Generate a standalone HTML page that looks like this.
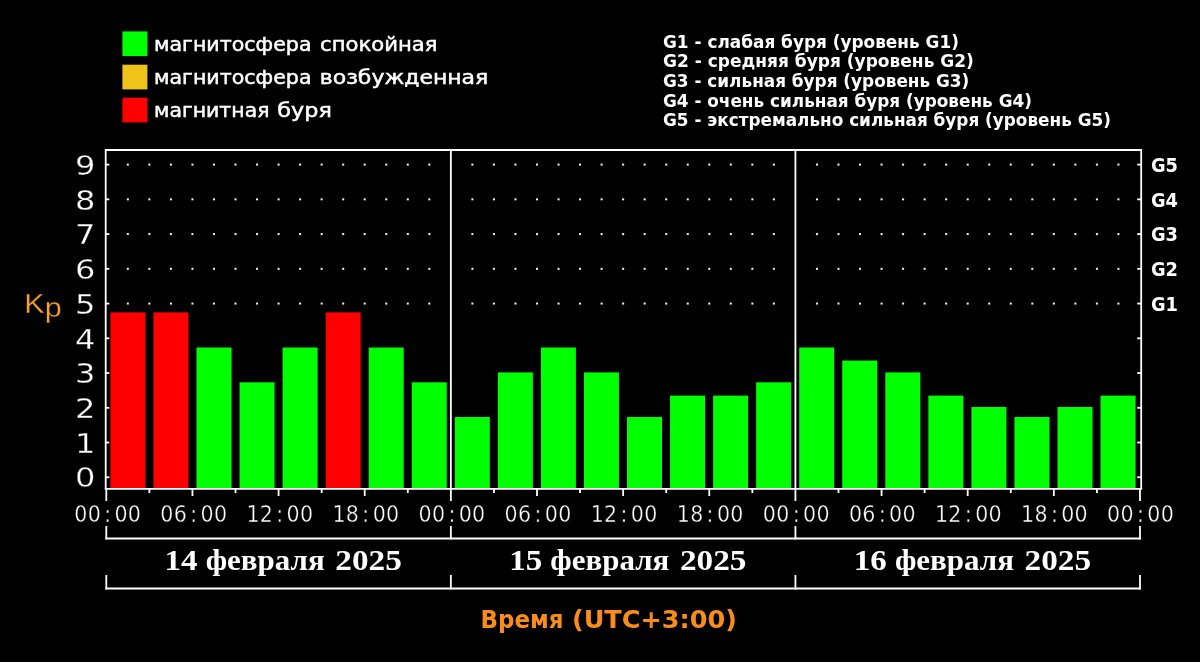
<!DOCTYPE html>
<html lang="ru"><head><meta charset="utf-8"><title>Kp</title>
<style>html,body{margin:0;padding:0;background:#000;}body{width:1200px;height:662px;overflow:hidden}svg{display:block}.t{font-family:"DejaVu Sans","Liberation Sans",sans-serif;fill:#fff;stroke:#fff;stroke-width:0.5px}.tb{font-family:"DejaVu Sans Condensed","DejaVu Sans","Liberation Sans",sans-serif;font-weight:bold;fill:#fff}.num{font-family:"Liberation Sans",sans-serif;fill:#fff}.yn{font-family:"DejaVu Sans","Liberation Sans",sans-serif;fill:#fff;stroke:#000;stroke-width:0.3px}.tm{font-family:"DejaVu Sans","Liberation Sans",sans-serif;fill:#fff;stroke:#000;stroke-width:0.35px}.date{font-family:"Liberation Serif",serif;font-weight:bold;fill:#fff}</style></head><body>
<svg width="1200" height="662" viewBox="0 0 1200 662">
<rect width="1200" height="662" fill="#000"/>
<rect x="122.4" y="31.4" width="25" height="24.7" fill="#00ff00"/>
<rect x="122.4" y="64.7" width="25" height="24.7" fill="#efc41a"/>
<rect x="122.4" y="97.7" width="25" height="24.7" fill="#ff0000"/>
<text class="t" y="51" font-size="20"><tspan x="154.0" textLength="157.5" lengthAdjust="spacingAndGlyphs">магнитосфера</tspan> <tspan x="320.0" textLength="117.5" lengthAdjust="spacingAndGlyphs">спокойная</tspan></text>
<text class="t" y="84.4" font-size="20"><tspan x="154.0" textLength="157.5" lengthAdjust="spacingAndGlyphs">магнитосфера</tspan> <tspan x="319.8" textLength="168.5" lengthAdjust="spacingAndGlyphs">возбужденная</tspan></text>
<text class="t" y="117.4" font-size="20"><tspan x="154.0" textLength="115.5" lengthAdjust="spacingAndGlyphs">магнитная</tspan> <tspan x="277.3" textLength="54.5" lengthAdjust="spacingAndGlyphs">буря</tspan></text>
<text class="tb" x="663" y="47.5" font-size="18" textLength="295.9" lengthAdjust="spacingAndGlyphs">G1 - слабая буря (уровень G1)</text>
<text class="tb" x="663" y="67.2" font-size="18" textLength="310.9" lengthAdjust="spacingAndGlyphs">G2 - средняя буря (уровень G2)</text>
<text class="tb" x="663" y="87.0" font-size="18" textLength="306.3" lengthAdjust="spacingAndGlyphs">G3 - сильная буря (уровень G3)</text>
<text class="tb" x="663" y="106.6" font-size="18" textLength="368.9" lengthAdjust="spacingAndGlyphs">G4 - очень сильная буря (уровень G4)</text>
<text class="tb" x="663" y="126.3" font-size="18" textLength="447.9" lengthAdjust="spacingAndGlyphs">G5 - экстремально сильная буря (уровень G5)</text>
<g fill="#f2f2f2">
<rect x="126.83" y="163.60" width="2" height="2"/>
<rect x="148.37" y="163.60" width="2" height="2"/>
<rect x="169.91" y="163.60" width="2" height="2"/>
<rect x="191.44" y="163.60" width="2" height="2"/>
<rect x="212.97" y="163.60" width="2" height="2"/>
<rect x="234.51" y="163.60" width="2" height="2"/>
<rect x="256.05" y="163.60" width="2" height="2"/>
<rect x="277.58" y="163.60" width="2" height="2"/>
<rect x="299.12" y="163.60" width="2" height="2"/>
<rect x="320.65" y="163.60" width="2" height="2"/>
<rect x="342.19" y="163.60" width="2" height="2"/>
<rect x="363.72" y="163.60" width="2" height="2"/>
<rect x="385.25" y="163.60" width="2" height="2"/>
<rect x="406.79" y="163.60" width="2" height="2"/>
<rect x="428.32" y="163.60" width="2" height="2"/>
<rect x="471.40" y="163.60" width="2" height="2"/>
<rect x="492.93" y="163.60" width="2" height="2"/>
<rect x="514.47" y="163.60" width="2" height="2"/>
<rect x="536.00" y="163.60" width="2" height="2"/>
<rect x="557.53" y="163.60" width="2" height="2"/>
<rect x="579.07" y="163.60" width="2" height="2"/>
<rect x="600.61" y="163.60" width="2" height="2"/>
<rect x="622.14" y="163.60" width="2" height="2"/>
<rect x="643.67" y="163.60" width="2" height="2"/>
<rect x="665.21" y="163.60" width="2" height="2"/>
<rect x="686.75" y="163.60" width="2" height="2"/>
<rect x="708.28" y="163.60" width="2" height="2"/>
<rect x="729.81" y="163.60" width="2" height="2"/>
<rect x="751.35" y="163.60" width="2" height="2"/>
<rect x="772.88" y="163.60" width="2" height="2"/>
<rect x="815.95" y="163.60" width="2" height="2"/>
<rect x="837.49" y="163.60" width="2" height="2"/>
<rect x="859.02" y="163.60" width="2" height="2"/>
<rect x="880.56" y="163.60" width="2" height="2"/>
<rect x="902.09" y="163.60" width="2" height="2"/>
<rect x="923.63" y="163.60" width="2" height="2"/>
<rect x="945.16" y="163.60" width="2" height="2"/>
<rect x="966.70" y="163.60" width="2" height="2"/>
<rect x="988.24" y="163.60" width="2" height="2"/>
<rect x="1009.77" y="163.60" width="2" height="2"/>
<rect x="1031.31" y="163.60" width="2" height="2"/>
<rect x="1052.84" y="163.60" width="2" height="2"/>
<rect x="1074.38" y="163.60" width="2" height="2"/>
<rect x="1095.91" y="163.60" width="2" height="2"/>
<rect x="1117.44" y="163.60" width="2" height="2"/>
<rect x="126.83" y="198.34" width="2" height="2"/>
<rect x="148.37" y="198.34" width="2" height="2"/>
<rect x="169.91" y="198.34" width="2" height="2"/>
<rect x="191.44" y="198.34" width="2" height="2"/>
<rect x="212.97" y="198.34" width="2" height="2"/>
<rect x="234.51" y="198.34" width="2" height="2"/>
<rect x="256.05" y="198.34" width="2" height="2"/>
<rect x="277.58" y="198.34" width="2" height="2"/>
<rect x="299.12" y="198.34" width="2" height="2"/>
<rect x="320.65" y="198.34" width="2" height="2"/>
<rect x="342.19" y="198.34" width="2" height="2"/>
<rect x="363.72" y="198.34" width="2" height="2"/>
<rect x="385.25" y="198.34" width="2" height="2"/>
<rect x="406.79" y="198.34" width="2" height="2"/>
<rect x="428.32" y="198.34" width="2" height="2"/>
<rect x="471.40" y="198.34" width="2" height="2"/>
<rect x="492.93" y="198.34" width="2" height="2"/>
<rect x="514.47" y="198.34" width="2" height="2"/>
<rect x="536.00" y="198.34" width="2" height="2"/>
<rect x="557.53" y="198.34" width="2" height="2"/>
<rect x="579.07" y="198.34" width="2" height="2"/>
<rect x="600.61" y="198.34" width="2" height="2"/>
<rect x="622.14" y="198.34" width="2" height="2"/>
<rect x="643.67" y="198.34" width="2" height="2"/>
<rect x="665.21" y="198.34" width="2" height="2"/>
<rect x="686.75" y="198.34" width="2" height="2"/>
<rect x="708.28" y="198.34" width="2" height="2"/>
<rect x="729.81" y="198.34" width="2" height="2"/>
<rect x="751.35" y="198.34" width="2" height="2"/>
<rect x="772.88" y="198.34" width="2" height="2"/>
<rect x="815.95" y="198.34" width="2" height="2"/>
<rect x="837.49" y="198.34" width="2" height="2"/>
<rect x="859.02" y="198.34" width="2" height="2"/>
<rect x="880.56" y="198.34" width="2" height="2"/>
<rect x="902.09" y="198.34" width="2" height="2"/>
<rect x="923.63" y="198.34" width="2" height="2"/>
<rect x="945.16" y="198.34" width="2" height="2"/>
<rect x="966.70" y="198.34" width="2" height="2"/>
<rect x="988.24" y="198.34" width="2" height="2"/>
<rect x="1009.77" y="198.34" width="2" height="2"/>
<rect x="1031.31" y="198.34" width="2" height="2"/>
<rect x="1052.84" y="198.34" width="2" height="2"/>
<rect x="1074.38" y="198.34" width="2" height="2"/>
<rect x="1095.91" y="198.34" width="2" height="2"/>
<rect x="1117.44" y="198.34" width="2" height="2"/>
<rect x="126.83" y="233.08" width="2" height="2"/>
<rect x="148.37" y="233.08" width="2" height="2"/>
<rect x="169.91" y="233.08" width="2" height="2"/>
<rect x="191.44" y="233.08" width="2" height="2"/>
<rect x="212.97" y="233.08" width="2" height="2"/>
<rect x="234.51" y="233.08" width="2" height="2"/>
<rect x="256.05" y="233.08" width="2" height="2"/>
<rect x="277.58" y="233.08" width="2" height="2"/>
<rect x="299.12" y="233.08" width="2" height="2"/>
<rect x="320.65" y="233.08" width="2" height="2"/>
<rect x="342.19" y="233.08" width="2" height="2"/>
<rect x="363.72" y="233.08" width="2" height="2"/>
<rect x="385.25" y="233.08" width="2" height="2"/>
<rect x="406.79" y="233.08" width="2" height="2"/>
<rect x="428.32" y="233.08" width="2" height="2"/>
<rect x="471.40" y="233.08" width="2" height="2"/>
<rect x="492.93" y="233.08" width="2" height="2"/>
<rect x="514.47" y="233.08" width="2" height="2"/>
<rect x="536.00" y="233.08" width="2" height="2"/>
<rect x="557.53" y="233.08" width="2" height="2"/>
<rect x="579.07" y="233.08" width="2" height="2"/>
<rect x="600.61" y="233.08" width="2" height="2"/>
<rect x="622.14" y="233.08" width="2" height="2"/>
<rect x="643.67" y="233.08" width="2" height="2"/>
<rect x="665.21" y="233.08" width="2" height="2"/>
<rect x="686.75" y="233.08" width="2" height="2"/>
<rect x="708.28" y="233.08" width="2" height="2"/>
<rect x="729.81" y="233.08" width="2" height="2"/>
<rect x="751.35" y="233.08" width="2" height="2"/>
<rect x="772.88" y="233.08" width="2" height="2"/>
<rect x="815.95" y="233.08" width="2" height="2"/>
<rect x="837.49" y="233.08" width="2" height="2"/>
<rect x="859.02" y="233.08" width="2" height="2"/>
<rect x="880.56" y="233.08" width="2" height="2"/>
<rect x="902.09" y="233.08" width="2" height="2"/>
<rect x="923.63" y="233.08" width="2" height="2"/>
<rect x="945.16" y="233.08" width="2" height="2"/>
<rect x="966.70" y="233.08" width="2" height="2"/>
<rect x="988.24" y="233.08" width="2" height="2"/>
<rect x="1009.77" y="233.08" width="2" height="2"/>
<rect x="1031.31" y="233.08" width="2" height="2"/>
<rect x="1052.84" y="233.08" width="2" height="2"/>
<rect x="1074.38" y="233.08" width="2" height="2"/>
<rect x="1095.91" y="233.08" width="2" height="2"/>
<rect x="1117.44" y="233.08" width="2" height="2"/>
<rect x="126.83" y="267.82" width="2" height="2"/>
<rect x="148.37" y="267.82" width="2" height="2"/>
<rect x="169.91" y="267.82" width="2" height="2"/>
<rect x="191.44" y="267.82" width="2" height="2"/>
<rect x="212.97" y="267.82" width="2" height="2"/>
<rect x="234.51" y="267.82" width="2" height="2"/>
<rect x="256.05" y="267.82" width="2" height="2"/>
<rect x="277.58" y="267.82" width="2" height="2"/>
<rect x="299.12" y="267.82" width="2" height="2"/>
<rect x="320.65" y="267.82" width="2" height="2"/>
<rect x="342.19" y="267.82" width="2" height="2"/>
<rect x="363.72" y="267.82" width="2" height="2"/>
<rect x="385.25" y="267.82" width="2" height="2"/>
<rect x="406.79" y="267.82" width="2" height="2"/>
<rect x="428.32" y="267.82" width="2" height="2"/>
<rect x="471.40" y="267.82" width="2" height="2"/>
<rect x="492.93" y="267.82" width="2" height="2"/>
<rect x="514.47" y="267.82" width="2" height="2"/>
<rect x="536.00" y="267.82" width="2" height="2"/>
<rect x="557.53" y="267.82" width="2" height="2"/>
<rect x="579.07" y="267.82" width="2" height="2"/>
<rect x="600.61" y="267.82" width="2" height="2"/>
<rect x="622.14" y="267.82" width="2" height="2"/>
<rect x="643.67" y="267.82" width="2" height="2"/>
<rect x="665.21" y="267.82" width="2" height="2"/>
<rect x="686.75" y="267.82" width="2" height="2"/>
<rect x="708.28" y="267.82" width="2" height="2"/>
<rect x="729.81" y="267.82" width="2" height="2"/>
<rect x="751.35" y="267.82" width="2" height="2"/>
<rect x="772.88" y="267.82" width="2" height="2"/>
<rect x="815.95" y="267.82" width="2" height="2"/>
<rect x="837.49" y="267.82" width="2" height="2"/>
<rect x="859.02" y="267.82" width="2" height="2"/>
<rect x="880.56" y="267.82" width="2" height="2"/>
<rect x="902.09" y="267.82" width="2" height="2"/>
<rect x="923.63" y="267.82" width="2" height="2"/>
<rect x="945.16" y="267.82" width="2" height="2"/>
<rect x="966.70" y="267.82" width="2" height="2"/>
<rect x="988.24" y="267.82" width="2" height="2"/>
<rect x="1009.77" y="267.82" width="2" height="2"/>
<rect x="1031.31" y="267.82" width="2" height="2"/>
<rect x="1052.84" y="267.82" width="2" height="2"/>
<rect x="1074.38" y="267.82" width="2" height="2"/>
<rect x="1095.91" y="267.82" width="2" height="2"/>
<rect x="1117.44" y="267.82" width="2" height="2"/>
<rect x="126.83" y="302.56" width="2" height="2"/>
<rect x="148.37" y="302.56" width="2" height="2"/>
<rect x="169.91" y="302.56" width="2" height="2"/>
<rect x="191.44" y="302.56" width="2" height="2"/>
<rect x="212.97" y="302.56" width="2" height="2"/>
<rect x="234.51" y="302.56" width="2" height="2"/>
<rect x="256.05" y="302.56" width="2" height="2"/>
<rect x="277.58" y="302.56" width="2" height="2"/>
<rect x="299.12" y="302.56" width="2" height="2"/>
<rect x="320.65" y="302.56" width="2" height="2"/>
<rect x="342.19" y="302.56" width="2" height="2"/>
<rect x="363.72" y="302.56" width="2" height="2"/>
<rect x="385.25" y="302.56" width="2" height="2"/>
<rect x="406.79" y="302.56" width="2" height="2"/>
<rect x="428.32" y="302.56" width="2" height="2"/>
<rect x="471.40" y="302.56" width="2" height="2"/>
<rect x="492.93" y="302.56" width="2" height="2"/>
<rect x="514.47" y="302.56" width="2" height="2"/>
<rect x="536.00" y="302.56" width="2" height="2"/>
<rect x="557.53" y="302.56" width="2" height="2"/>
<rect x="579.07" y="302.56" width="2" height="2"/>
<rect x="600.61" y="302.56" width="2" height="2"/>
<rect x="622.14" y="302.56" width="2" height="2"/>
<rect x="643.67" y="302.56" width="2" height="2"/>
<rect x="665.21" y="302.56" width="2" height="2"/>
<rect x="686.75" y="302.56" width="2" height="2"/>
<rect x="708.28" y="302.56" width="2" height="2"/>
<rect x="729.81" y="302.56" width="2" height="2"/>
<rect x="751.35" y="302.56" width="2" height="2"/>
<rect x="772.88" y="302.56" width="2" height="2"/>
<rect x="815.95" y="302.56" width="2" height="2"/>
<rect x="837.49" y="302.56" width="2" height="2"/>
<rect x="859.02" y="302.56" width="2" height="2"/>
<rect x="880.56" y="302.56" width="2" height="2"/>
<rect x="902.09" y="302.56" width="2" height="2"/>
<rect x="923.63" y="302.56" width="2" height="2"/>
<rect x="945.16" y="302.56" width="2" height="2"/>
<rect x="966.70" y="302.56" width="2" height="2"/>
<rect x="988.24" y="302.56" width="2" height="2"/>
<rect x="1009.77" y="302.56" width="2" height="2"/>
<rect x="1031.31" y="302.56" width="2" height="2"/>
<rect x="1052.84" y="302.56" width="2" height="2"/>
<rect x="1074.38" y="302.56" width="2" height="2"/>
<rect x="1095.91" y="302.56" width="2" height="2"/>
<rect x="1117.44" y="302.56" width="2" height="2"/>
</g>
<rect x="110.40" y="312.4" width="35.0" height="175.60" fill="#ff0000"/>
<rect x="153.45" y="312.4" width="35.0" height="175.60" fill="#ff0000"/>
<rect x="196.50" y="347.5" width="35.0" height="140.50" fill="#00ff00"/>
<rect x="239.55" y="382.3" width="35.0" height="105.70" fill="#00ff00"/>
<rect x="282.60" y="347.5" width="35.0" height="140.50" fill="#00ff00"/>
<rect x="325.65" y="312.4" width="35.0" height="175.60" fill="#ff0000"/>
<rect x="368.70" y="347.5" width="35.0" height="140.50" fill="#00ff00"/>
<rect x="411.75" y="382.3" width="35.0" height="105.70" fill="#00ff00"/>
<rect x="454.80" y="417.0" width="35.0" height="71.00" fill="#00ff00"/>
<rect x="497.85" y="372.4" width="35.0" height="115.60" fill="#00ff00"/>
<rect x="540.90" y="347.5" width="35.0" height="140.50" fill="#00ff00"/>
<rect x="583.95" y="372.4" width="35.0" height="115.60" fill="#00ff00"/>
<rect x="627.00" y="417.0" width="35.0" height="71.00" fill="#00ff00"/>
<rect x="670.05" y="395.6" width="35.0" height="92.40" fill="#00ff00"/>
<rect x="713.10" y="395.6" width="35.0" height="92.40" fill="#00ff00"/>
<rect x="756.15" y="382.3" width="35.0" height="105.70" fill="#00ff00"/>
<rect x="799.20" y="347.5" width="35.0" height="140.50" fill="#00ff00"/>
<rect x="842.25" y="360.6" width="35.0" height="127.40" fill="#00ff00"/>
<rect x="885.30" y="372.4" width="35.0" height="115.60" fill="#00ff00"/>
<rect x="928.35" y="395.6" width="35.0" height="92.40" fill="#00ff00"/>
<rect x="971.40" y="407.0" width="35.0" height="81.00" fill="#00ff00"/>
<rect x="1014.45" y="417.0" width="35.0" height="71.00" fill="#00ff00"/>
<rect x="1057.50" y="407.0" width="35.0" height="81.00" fill="#00ff00"/>
<rect x="1100.55" y="395.6" width="35.0" height="92.40" fill="#00ff00"/>
<g stroke="#fff" stroke-width="1.8" fill="none" stroke-linecap="butt">
<path d="M105.7 488.9 V150.0 H1141.2 V488.9"/>
<path d="M104.8 488.9 H1142.1000000000001"/>
<path d="M450.86 150.0 V488.9"/>
<path d="M795.42 150.0 V488.9"/>
<path d="M105.7 164.60 h3.6"/>
<path d="M1141.2 164.60 h-4"/>
<path d="M105.7 199.34 h3.6"/>
<path d="M1141.2 199.34 h-4"/>
<path d="M105.7 234.08 h3.6"/>
<path d="M1141.2 234.08 h-4"/>
<path d="M105.7 268.82 h3.6"/>
<path d="M1141.2 268.82 h-4"/>
<path d="M105.7 303.56 h3.6"/>
<path d="M1141.2 303.56 h-4"/>
<path d="M105.7 338.30 h3.6"/>
<path d="M1141.2 338.30 h-4"/>
<path d="M105.7 373.04 h3.6"/>
<path d="M1141.2 373.04 h-4"/>
<path d="M105.7 407.78 h3.6"/>
<path d="M1141.2 407.78 h-4"/>
<path d="M105.7 442.52 h3.6"/>
<path d="M1141.2 442.52 h-4"/>
<path d="M105.7 477.26 h3.6"/>
<path d="M1141.2 477.26 h-4"/>
<path d="M106.30 488.9 V501"/>
<path d="M106.30 526 V539.5"/>
<path d="M106.30 575 V589.5"/>
<path d="M149.37 488.9 V493"/>
<path d="M192.44 488.9 V496"/>
<path d="M235.51 488.9 V493"/>
<path d="M278.58 488.9 V496"/>
<path d="M321.65 488.9 V493"/>
<path d="M364.72 488.9 V496"/>
<path d="M407.79 488.9 V493"/>
<path d="M450.86 488.9 V501"/>
<path d="M450.86 526 V539.5"/>
<path d="M450.86 575 V589.5"/>
<path d="M493.93 488.9 V493"/>
<path d="M537.00 488.9 V496"/>
<path d="M580.07 488.9 V493"/>
<path d="M623.14 488.9 V496"/>
<path d="M666.21 488.9 V493"/>
<path d="M709.28 488.9 V496"/>
<path d="M752.35 488.9 V493"/>
<path d="M795.42 488.9 V501"/>
<path d="M795.42 526 V539.5"/>
<path d="M795.42 575 V589.5"/>
<path d="M838.49 488.9 V493"/>
<path d="M881.56 488.9 V496"/>
<path d="M924.63 488.9 V493"/>
<path d="M967.70 488.9 V496"/>
<path d="M1010.77 488.9 V493"/>
<path d="M1053.84 488.9 V496"/>
<path d="M1096.91 488.9 V493"/>
<path d="M1139.98 488.9 V501"/>
<path d="M1139.98 526 V539.5"/>
<path d="M1139.98 575 V589.5"/>
<path d="M105.30 538.5 H1140.98"/>
<path d="M105.30 588.5 H1140.98"/>
</g>
<text class="yn" transform="translate(85.2 174.80) scale(1.17 1)" text-anchor="middle" font-size="27.4">9</text>
<text class="yn" transform="translate(85.2 209.54) scale(1.17 1)" text-anchor="middle" font-size="27.4">8</text>
<text class="yn" transform="translate(85.2 244.28) scale(1.17 1)" text-anchor="middle" font-size="27.4">7</text>
<text class="yn" transform="translate(85.2 279.02) scale(1.17 1)" text-anchor="middle" font-size="27.4">6</text>
<text class="yn" transform="translate(85.2 313.76) scale(1.17 1)" text-anchor="middle" font-size="27.4">5</text>
<text class="yn" transform="translate(85.2 348.50) scale(1.17 1)" text-anchor="middle" font-size="27.4">4</text>
<text class="yn" transform="translate(85.2 383.24) scale(1.17 1)" text-anchor="middle" font-size="27.4">3</text>
<text class="yn" transform="translate(85.2 417.98) scale(1.17 1)" text-anchor="middle" font-size="27.4">2</text>
<text class="yn" transform="translate(85.2 452.72) scale(1.17 1)" text-anchor="middle" font-size="27.4">1</text>
<text class="yn" transform="translate(85.2 487.46) scale(1.17 1)" text-anchor="middle" font-size="27.4">0</text>
<text class="tb" x="1151" y="171.90" font-size="19.3" textLength="27" lengthAdjust="spacingAndGlyphs">G5</text>
<text class="tb" x="1151" y="206.64" font-size="19.3" textLength="27" lengthAdjust="spacingAndGlyphs">G4</text>
<text class="tb" x="1151" y="241.38" font-size="19.3" textLength="27" lengthAdjust="spacingAndGlyphs">G3</text>
<text class="tb" x="1151" y="276.12" font-size="19.3" textLength="27" lengthAdjust="spacingAndGlyphs">G2</text>
<text class="tb" x="1151" y="310.86" font-size="19.3" textLength="27" lengthAdjust="spacingAndGlyphs">G1</text>
<text class="num" transform="translate(24.3 313) scale(1.09 1)" font-size="28" style="fill:#f9a222;stroke:#000;stroke-width:0.3px">K<tspan dy="3.8">p</tspan></text>
<text class="tm" transform="translate(107.60 521.5) scale(1 1.13)" x="-26.8 -13.4 0.0 13.4 26.8" y="0" text-anchor="middle" font-size="20.6">00:00</text>
<text class="tm" transform="translate(193.67 521.5) scale(1 1.13)" x="-26.8 -13.4 0.0 13.4 26.8" y="0" text-anchor="middle" font-size="20.6">06:00</text>
<text class="tm" transform="translate(279.74 521.5) scale(1 1.13)" x="-26.8 -13.4 0.0 13.4 26.8" y="0" text-anchor="middle" font-size="20.6">12:00</text>
<text class="tm" transform="translate(365.81 521.5) scale(1 1.13)" x="-26.8 -13.4 0.0 13.4 26.8" y="0" text-anchor="middle" font-size="20.6">18:00</text>
<text class="tm" transform="translate(451.88 521.5) scale(1 1.13)" x="-26.8 -13.4 0.0 13.4 26.8" y="0" text-anchor="middle" font-size="20.6">00:00</text>
<text class="tm" transform="translate(537.95 521.5) scale(1 1.13)" x="-26.8 -13.4 0.0 13.4 26.8" y="0" text-anchor="middle" font-size="20.6">06:00</text>
<text class="tm" transform="translate(624.02 521.5) scale(1 1.13)" x="-26.8 -13.4 0.0 13.4 26.8" y="0" text-anchor="middle" font-size="20.6">12:00</text>
<text class="tm" transform="translate(710.09 521.5) scale(1 1.13)" x="-26.8 -13.4 0.0 13.4 26.8" y="0" text-anchor="middle" font-size="20.6">18:00</text>
<text class="tm" transform="translate(796.16 521.5) scale(1 1.13)" x="-26.8 -13.4 0.0 13.4 26.8" y="0" text-anchor="middle" font-size="20.6">00:00</text>
<text class="tm" transform="translate(882.23 521.5) scale(1 1.13)" x="-26.8 -13.4 0.0 13.4 26.8" y="0" text-anchor="middle" font-size="20.6">06:00</text>
<text class="tm" transform="translate(968.30 521.5) scale(1 1.13)" x="-26.8 -13.4 0.0 13.4 26.8" y="0" text-anchor="middle" font-size="20.6">12:00</text>
<text class="tm" transform="translate(1054.37 521.5) scale(1 1.13)" x="-26.8 -13.4 0.0 13.4 26.8" y="0" text-anchor="middle" font-size="20.6">18:00</text>
<text class="tm" transform="translate(1140.44 521.5) scale(1 1.13)" x="-26.8 -13.4 0.0 13.4 26.8" y="0" text-anchor="middle" font-size="20.6">00:00</text>
<text class="date" y="569.8" font-size="28.6"><tspan x="164.60" textLength="33" lengthAdjust="spacingAndGlyphs">14</tspan> <tspan x="205.70" textLength="119" lengthAdjust="spacingAndGlyphs">февраля</tspan> <tspan x="335.30" textLength="66.5" lengthAdjust="spacingAndGlyphs">2025</tspan></text>
<text class="date" y="569.8" font-size="28.6"><tspan x="509.20" textLength="33" lengthAdjust="spacingAndGlyphs">15</tspan> <tspan x="550.30" textLength="119" lengthAdjust="spacingAndGlyphs">февраля</tspan> <tspan x="679.90" textLength="66.5" lengthAdjust="spacingAndGlyphs">2025</tspan></text>
<text class="date" y="569.8" font-size="28.6"><tspan x="853.80" textLength="33" lengthAdjust="spacingAndGlyphs">16</tspan> <tspan x="894.90" textLength="119" lengthAdjust="spacingAndGlyphs">февраля</tspan> <tspan x="1024.50" textLength="66.5" lengthAdjust="spacingAndGlyphs">2025</tspan></text>
<text class="tb" y="627.7" font-size="25" style="fill:#fa8c19"><tspan x="480.6" textLength="83" lengthAdjust="spacingAndGlyphs">Время</tspan> <tspan x="572" textLength="165" lengthAdjust="spacingAndGlyphs">(UTC+3:00)</tspan></text>
</svg></body></html>
